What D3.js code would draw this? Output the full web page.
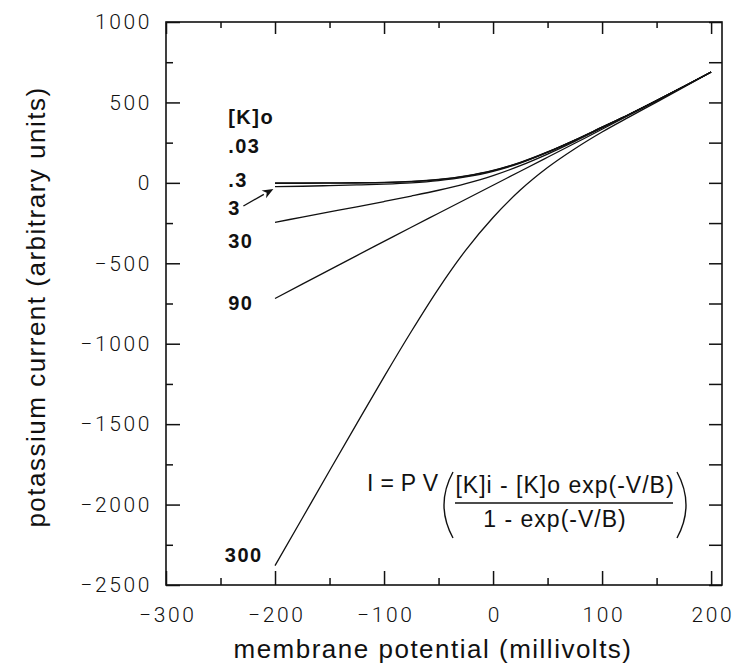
<!DOCTYPE html>
<html>
<head>
<meta charset="utf-8">
<script src="https://cdn.jsdelivr.net/npm/d3@7"></script>
<style>
  body { margin: 0; background: #fff; }
  svg text { font-family: "Liberation Sans", Arial, sans-serif; fill: #111; }
  .tick text { font-family: Roboto, "Liberation Sans", sans-serif; font-weight: 300; font-size: 21px; letter-spacing: 2.6px; }
  .title { font-size: 26px; letter-spacing: 1.5px; }
  .lab { font-size: 20px; font-weight: bold; letter-spacing: 1.5px; }
  .eq { font-size: 23px; letter-spacing: 1px; }
</style>
</head>
<body>
<div id="vis"></div>
<script>
// Potassium current vs membrane potential, one curve per outside [K]

/* ******************** Data ******************** */

// membrane potential (mV) where each curve was read
var volts = [-200, -175, -150, -125, -100, -75, -50, -25, 0, 25, 50, 75, 100, 125, 150, 175, 200];

// outside concentrations, in legend order
var koLabels = ['.03', '.3', '3', '30', '90', '300'];

// current (arbitrary units)
var cur003 = [-1, -1, 0, 1, 3, 9, 21, 43, 77, 127, 192, 266, 346, 426, 511, 599, 689];
var cur03 = [-3, -3, -2, -1, 2, 8, 20, 42, 76, 126, 191, 266, 346, 426, 511, 599, 689];
var cur3 = [-24, -21, -17, -13, -8, 0, 14, 37, 72, 123, 190, 264, 345, 426, 511, 599, 689];
var cur30 = [-245, -213, -181, -149, -116, -82, -46, -5, 45, 107, 179, 258, 341, 425, 511, 599, 689];
var cur90 = [-719, -630, -541, -452, -364, -276, -189, -102, -15, 72, 159, 246, 333, 422, 511, 600, 689];
var cur300 = [-2380, -2085, -1790, -1497, -1206, -924, -657, -418, -215, -45, 95, 212, 316, 410, 502, 595, 689];

var allCurves = [cur003, cur03, cur3, cur30, cur90, cur300];

// tick values
var xTicks = [-300, -250, -200, -150, -100, -50, 0, 50, 100, 150, 200];
var yTicks = [-2500, -2250, -2000, -1750, -1500, -1250, -1000, -750, -500, -250, 0, 250, 500, 750, 1000];

// where the concentration labels sit (mV, current)
var labelSpots = [
    { text: '[K]o', v: -243, i: 366 },
    { text: '.03', v: -243, i: 186 },
    { text: '.3', v: -243, i: -26 },
    { text: '3', v: -243, i: -200 },
    { text: '30', v: -243, i: -405 },
    { text: '90', v: -243, i: -790 },
    { text: '300', v: -246, i: -2357 }
];

/* ******************** Settings ******************** */

var width = 753;
var height = 672;
var plotLeft = 166, plotRight = 722, plotTop = 22, plotBottom = 585;

var svg = d3.select('#vis')
    .append('svg')
    .attr('width', width)
    .attr('height', height);

var xScale = d3.scaleLinear().domain([-300, 210]).range([plotLeft, plotRight]);
var yScale = d3.scaleLinear().domain([-2500, 1000]).range([plotBottom, plotTop]);

var fmt = d3.format('d');

/* ******************** Axes ******************** */

// bottom, labelled, ticks pointing in
var xAxisG = svg.append('g')
    .attr('transform', 'translate(0,' + plotBottom + ')')
    .call(d3.axisBottom(xScale).tickValues(xTicks).tickSize(-14).tickPadding(22)
        .tickFormat(function(d) { return d % 100 === 0 ? fmt(d) : ''; }));
xAxisG.selectAll('.tick line')
    .attr('y2', function(d) { return d % 100 === 0 ? -14 : -7; });
xAxisG.selectAll('.tick text').attr('dx', '1.3px');

// top, unlabelled
var xTopG = svg.append('g')
    .attr('transform', 'translate(0,' + plotTop + ')')
    .call(d3.axisTop(xScale).tickValues(xTicks).tickSize(-12).tickFormat(''));
xTopG.selectAll('.tick line')
    .attr('y2', function(d) { return d % 100 === 0 ? 12 : 6; });

// left, labelled
var yAxisG = svg.append('g')
    .attr('transform', 'translate(' + plotLeft + ',0)')
    .call(d3.axisLeft(yScale).tickValues(yTicks).tickSize(-14).tickPadding(14)
        .tickFormat(function(d) { return d % 500 === 0 ? fmt(d) : ''; }));
yAxisG.selectAll('.tick line')
    .attr('x2', function(d) { return d % 500 === 0 ? 14 : 7; });

// right, unlabelled
var yRightG = svg.append('g')
    .attr('transform', 'translate(' + plotRight + ',0)')
    .call(d3.axisRight(yScale).tickValues(yTicks).tickSize(-13).tickFormat(''));

svg.selectAll('.domain').remove();
svg.selectAll('.tick line').attr('stroke', '#111').attr('stroke-width', 1.5);

// frame
svg.append('rect')
    .attr('x', plotLeft).attr('y', plotTop)
    .attr('width', plotRight - plotLeft).attr('height', plotBottom - plotTop)
    .attr('fill', 'none').attr('stroke', '#111').attr('stroke-width', 1.6);

/* ******************** Curves ******************** */

var line = d3.line()
    .x(function(d) { return xScale(d[0]); })
    .y(function(d) { return yScale(d[1]); })
    .curve(d3.curveMonotoneX);

svg.selectAll('.curve')
    .data(allCurves)
    .enter().append('path')
    .attr('class', 'curve')
    .attr('d', function(c) { return line(volts.map(function(v, i) { return [v, c[i]]; })); })
    .attr('fill', 'none')
    .attr('stroke', '#111')
    .attr('stroke-width', 1.3);

/* ******************** Labels ******************** */

svg.selectAll('.lab')
    .data(labelSpots)
    .enter().append('text')
    .attr('class', 'lab')
    .attr('x', function(d) { return xScale(d.v); })
    .attr('y', function(d) { return yScale(d.i); })
    .text(function(d) { return d.text; });

// arrow from the "3" label to its curve
var tail = [xScale(-229), yScale(-144)];
var head = [xScale(-201.5), yScale(-38)];
var ang = Math.atan2(head[1] - tail[1], head[0] - tail[0]);
var hl = 11, hw = 4.5;
var base = [head[0] - hl * Math.cos(ang), head[1] - hl * Math.sin(ang)];
svg.append('line')
    .attr('x1', tail[0]).attr('y1', tail[1])
    .attr('x2', base[0]).attr('y2', base[1])
    .attr('stroke', '#111').attr('stroke-width', 1.3);
svg.append('path')
    .attr('d', 'M' + head[0] + ',' + head[1] +
        'L' + (base[0] + hw * Math.sin(ang)) + ',' + (base[1] - hw * Math.cos(ang)) +
        'L' + (head[0] - 0.7 * hl * Math.cos(ang)) + ',' + (head[1] - 0.7 * hl * Math.sin(ang)) +
        'L' + (base[0] - hw * Math.sin(ang)) + ',' + (base[1] + hw * Math.cos(ang)) + 'Z')
    .attr('fill', '#111');

/* ******************** Equation ******************** */

var eq = svg.append('g');
eq.append('text').attr('class', 'eq').attr('x', 367).attr('y', 491)
    .style('letter-spacing', '0.3px').text('I = P V');
eq.append('text').attr('class', 'eq').attr('x', 565).attr('y', 493)
    .attr('text-anchor', 'middle').text('[K]i - [K]o exp(-V/B)');
eq.append('text').attr('class', 'eq').attr('x', 555).attr('y', 527)
    .attr('text-anchor', 'middle').text('1 - exp(-V/B)');
eq.append('line').attr('x1', 455).attr('x2', 673).attr('y1', 503).attr('y2', 503)
    .attr('stroke', '#111').attr('stroke-width', 1.3);
eq.append('path').attr('d', 'M453,472 Q435,505 453,538')
    .attr('fill', 'none').attr('stroke', '#111').attr('stroke-width', 1.4);
eq.append('path').attr('d', 'M677,472 Q695,505 677,538')
    .attr('fill', 'none').attr('stroke', '#111').attr('stroke-width', 1.4);

/* ******************** Titles ******************** */

svg.append('text')
    .attr('class', 'title')
    .attr('x', 433).attr('y', 658)
    .attr('text-anchor', 'middle')
    .text('membrane potential (millivolts)');

svg.append('text')
    .attr('class', 'title')
    .attr('transform', 'translate(45,307) rotate(-90)')
    .attr('text-anchor', 'middle')
    .text('potassium current (arbitrary units)');
</script>
</body>
</html>
